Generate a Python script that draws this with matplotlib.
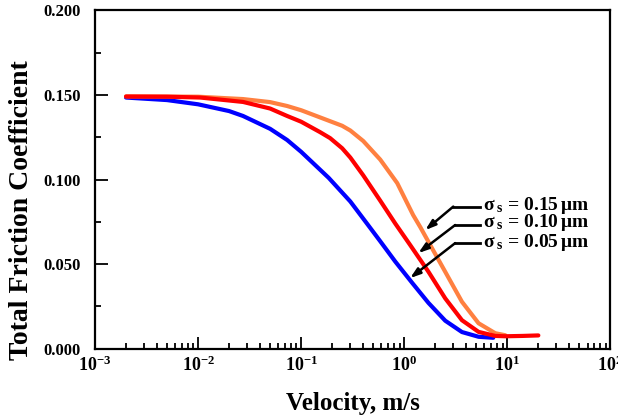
import matplotlib
matplotlib.use('Agg')
import matplotlib.pyplot as plt
from matplotlib.ticker import LogLocator, MultipleLocator, FormatStrFormatter

plt.rcParams['font.family'] = ['Liberation Serif', 'DejaVu Serif']
plt.rcParams['font.weight'] = 'bold'
plt.rcParams['mathtext.fontset'] = 'custom'
plt.rcParams['mathtext.rm'] = 'Liberation Serif:bold'
plt.rcParams['mathtext.it'] = 'Liberation Serif:bold'
plt.rcParams['mathtext.bf'] = 'Liberation Serif:bold'

# velocity (m/s) and friction coefficient
v_005 = [0.002, 0.005, 0.01, 0.02, 0.0273, 0.05, 0.0731, 0.1, 0.185, 0.3, 0.447, 0.585, 0.818,
         1.19, 1.72, 2.5, 3.63, 5.26, 7.3]
f_005 = [0.1485, 0.1470, 0.1445, 0.1405, 0.1376, 0.1300, 0.1234, 0.1164, 0.1010, 0.0870, 0.0730,
         0.0635, 0.0515, 0.0390, 0.0270, 0.0165, 0.0098, 0.0070, 0.0064]

v_010 = [0.002, 0.005, 0.0105, 0.0273, 0.05, 0.0731, 0.1, 0.153, 0.191, 0.25, 0.3, 0.40, 0.585,
         0.818, 1.144, 1.72, 2.5, 3.63, 5.26, 7.64, 9.57, 14.0, 20.0]
f_010 = [0.1491, 0.1490, 0.1485, 0.1459, 0.1420, 0.1376, 0.1342, 0.1280, 0.1245, 0.1185, 0.1130,
         0.1025, 0.0875, 0.0740, 0.0612, 0.0454, 0.0297, 0.0168, 0.0099, 0.0075, 0.0073, 0.0075,
         0.0078]

v_015 = [0.002, 0.01, 0.0273, 0.05, 0.0731, 0.1, 0.191, 0.25, 0.3, 0.40, 0.585, 0.855, 1.22, 1.43,
         1.79, 2.5, 3.63, 5.26, 7.64, 9.57]
f_015 = [0.1492, 0.1490, 0.1476, 0.1458, 0.1435, 0.1410, 0.1345, 0.1318, 0.1290, 0.1228, 0.1118,
         0.0979, 0.0790, 0.0719, 0.0612, 0.0454, 0.0277, 0.0150, 0.0091, 0.0079]

labels = ['0.05', '0.10', '0.15']
# label anchor (velocity, friction), elbow and arrow tip
label_pos = [(5.85, 0.0630), (5.85, 0.0743), (5.85, 0.0849)]
elbow = [(3.12, 0.0624), (3.12, 0.0731), (2.99, 0.0840)]
tips = [(1.14, 0.0417), (1.37, 0.0565), (1.60, 0.0701)]

fig = plt.figure(figsize=(6.18, 4.19), dpi=100)
ax = fig.add_axes([0.1537, 0.168, 0.834, 0.807])

ax.plot(v_005, f_005, color='#0000ff', lw=3, solid_capstyle='round', solid_joinstyle='round')
ax.plot(v_015, f_015, color='#ff8040', lw=3, solid_capstyle='round', solid_joinstyle='round')
ax.plot(v_010, f_010, color='#ff0000', lw=3, solid_capstyle='round', solid_joinstyle='round')

for i in range(3):
    ax.text(label_pos[i][0], label_pos[i][1], r'$\sigma_{\;s}$ = ' + labels[i] + r'$\,\mu$m',
            fontsize=14, ha='left', va='center')
    ax.plot([label_pos[i][0] * 0.93, elbow[i][0]], [elbow[i][1], elbow[i][1]], color='black', lw=2)
    ax.annotate('', xy=tips[i], xytext=elbow[i],
                arrowprops=dict(arrowstyle='-|>,head_length=0.6,head_width=0.2', color='black', lw=1.8,
                                shrinkA=0, shrinkB=0))

ax.set_xscale('log')
ax.set_xlim(1e-3, 1e2)
ax.set_ylim(0, 0.2)
ax.xaxis.set_major_locator(LogLocator(base=10, numticks=10))
ax.xaxis.set_minor_locator(LogLocator(base=10, subs=range(2, 10), numticks=10))
ax.yaxis.set_major_locator(MultipleLocator(0.05))
ax.yaxis.set_minor_locator(MultipleLocator(0.025))
ax.yaxis.set_major_formatter(FormatStrFormatter('%.3f'))

ax.tick_params(which='both', direction='in', top=False, right=False, width=1.3)
ax.tick_params(which='major', length=9)
ax.tick_params(which='minor', length=4.5)
ax.tick_params(axis='y', which='major', labelsize=12, pad=10)
ax.tick_params(axis='x', which='major', labelsize=13, pad=5)
for s in ax.spines.values():
    s.set_linewidth(1.6)

ax.set_xlabel('Velocity, m/s', fontsize=18, fontweight='bold', labelpad=12)
ax.set_ylabel('Total Friction Coefficient', fontsize=20, fontweight='bold')
ax.yaxis.set_label_coords(-0.118, 0.41)

fig.savefig('out.png', dpi=100)
